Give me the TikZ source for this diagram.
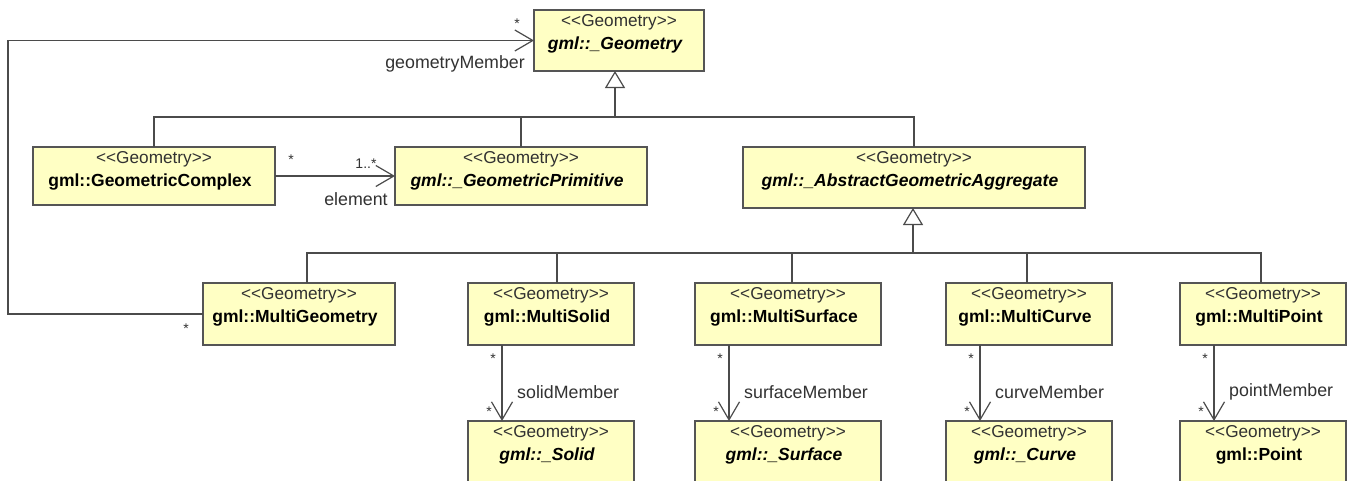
\documentclass[tikz,border=0pt]{standalone}
\usepackage{fontspec}
\newfontfamily\uml{Liberation Sans}
\usetikzlibrary{arrows.meta,calc}
\definecolor{boxfill}{RGB}{255,255,196}
\definecolor{boxline}{RGB}{85,85,85}
\definecolor{conn}{RGB}{75,75,75}
\definecolor{stereo}{RGB}{50,50,50}
\tikzset{
  umlbox/.style={draw=boxline, fill=boxfill, line width=1.3pt, inner sep=0pt, outer sep=0pt, anchor=north west},
  stereotxt/.style={font=\uml\fontsize{17.2}{19}\selectfont, text=stereo, inner sep=0pt},
  nametxt/.style={font=\uml\fontsize{17.5}{20}\selectfont\bfseries, inner sep=0pt},
  lbl/.style={font=\uml\fontsize{17.8}{20}\selectfont, text=stereo, inner sep=0pt},
  mult/.style={font=\uml\fontsize{14}{16}\selectfont, text=stereo, inner sep=0pt},
  link/.style={draw=conn, line width=1.2pt},
  gentip/.style={link, -{Triangle[length=17pt,width=20pt,fill=white,line width=1.2pt]}},
  assoc/.style={link, -{Straight Barb[length=18pt,width=21pt,line width=1.2pt]}},
}
\newcommand{\umlclass}[7]{%
  % #1 name, #2 x, #3 y, #4 w, #5 h, #6 font extra, #7 text
  \node[umlbox, minimum width=#4pt, minimum height=#5pt] (#1) at (#2,#3) {};
  \node[stereotxt] (#1-st) at ([yshift=-12pt]#1.north) {<\kern0pt<Geometry>\kern0pt>};
  \node[nametxt] (#1-nm) at ([yshift=-35pt,xshift=-4pt]#1.north) {#6#7};
}
\begin{document}
\begin{tikzpicture}[x=1pt,y=-1pt]
\useasboundingbox (0,0) rectangle (1351,480);
\fill[white] (0,0) rectangle (1351,480);

% classes
\umlclass{geom}{534}{10}{170}{61}{\itshape}{gml::\_Geometry}
\umlclass{gcomplex}{33}{147}{242}{58}{}{gml::GeometricComplex}
\umlclass{gprim}{395}{147}{252}{58}{\itshape}{gml::\_GeometricPrimitive}
\umlclass{gagg}{743}{147}{342}{61}{\itshape}{gml::\_AbstractGeometricAggregate}
\umlclass{mgeom}{203}{283}{192}{62}{}{gml::MultiGeometry}
\umlclass{msolid}{468}{283}{166}{62}{}{gml::MultiSolid}
\umlclass{msurf}{695}{283}{186}{62}{}{gml::MultiSurface}
\umlclass{mcurve}{946}{283}{166}{62}{}{gml::MultiCurve}
\umlclass{mpoint}{1180}{283}{166}{62}{}{gml::MultiPoint}
\umlclass{solid}{468}{421}{166}{66}{\itshape}{gml::\_Solid}
\umlclass{surf}{695}{421}{186}{66}{\itshape}{gml::\_Surface}
\umlclass{curve}{946}{421}{166}{66}{\itshape}{gml::\_Curve}
\umlclass{point}{1180}{421}{166}{66}{}{gml::Point}

% generalization (upper)
\coordinate (bus1) at (615,117);
\draw[link] (gcomplex.north) |- (bus1);
\draw[link] (gagg.north) |- (bus1);
\draw[link] (gprim.north) -- (gprim.north |- bus1);
\draw[gentip] (bus1) -- (bus1 |- geom.south);

% generalization (lower)
\coordinate (bus2) at (913,253);
\draw[link] ([xshift=104pt]mgeom.north west) |- (bus2);
\draw[link] ([xshift=89pt]msolid.north west) |- (bus2);
\draw[link] ([xshift=97pt]msurf.north west) |- (bus2);
\draw[link] ([xshift=81pt]mcurve.north west) |- (bus2);
\draw[link] ([xshift=81pt]mpoint.north west) |- (bus2);
\draw[gentip] (bus2) -- (bus2 |- gagg.south);

% element association
\draw[assoc] (gcomplex.east) -- (gprim.west);
\node[mult] (m1) at (291,160) {*};
\node[mult] (m2) at (366,164) {1..*};
\node[lbl] (l1) at (356,199) {element};

% geometryMember association
\draw[assoc] (mgeom.west) -- ++(-195,0) |- (geom.west);
\node[mult] (m3) at (517,24) {*};
\node[lbl, anchor=east] (l2) at (525,64) {geometryMember};
\node[mult] (m4) at (186,329) {*};

% member associations
\foreach \s/\t/\r in {msolid/solid/solidMember, msurf/surf/surfaceMember, mcurve/curve/curveMember, mpoint/point/pointMember}{
  \draw[assoc] ([xshift=34pt]\s.south west) -- ([xshift=34pt]\t.north west);
  \node[mult] (\s-ms) at ([xshift=25pt,yshift=-14pt]\s.south west) {*};
  \node[mult] (\s-mt) at ([xshift=21pt,yshift=9pt]\t.north west) {*};
  \node[lbl, anchor=west] (\s-r) at ([xshift=49pt,yshift=29pt]\t.north west) {\r};
}
\end{tikzpicture}
\end{document}
